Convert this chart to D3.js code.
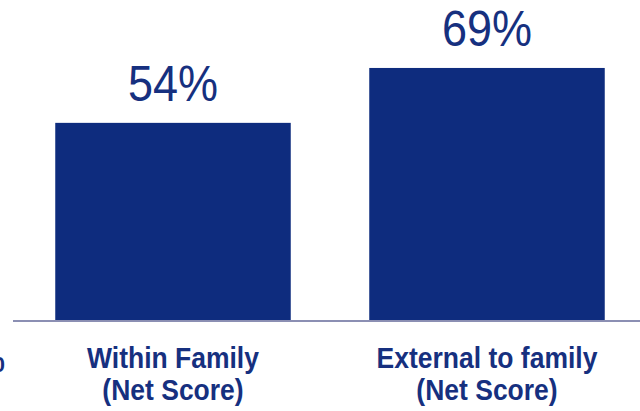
<!DOCTYPE html>
<html>
<head>
<meta charset="utf-8">
<script src="https://cdn.jsdelivr.net/npm/d3@7/dist/d3.min.js"></script>
<style>
  html, body { margin: 0; padding: 0; background: #ffffff; }
  svg { display: block; }
</style>
</head>
<body>
<div id="chart"></div>
<script>
// Net scores by relationship
const categories = ["Within Family", "External to family"];
const subLabels = ["(Net Score)", "(Net Score)"];
const values = [54, 69];
const valueLabels = ["54%", "69%"];

const width = 640, height = 411;
const barColor = "#0e2c7e";
const textColor = "#16307f";
const font = "Liberation Sans, Arial, sans-serif";

const svg = d3.select("#chart").append("svg")
  .attr("width", width)
  .attr("height", height);

const x = d3.scaleBand()
  .domain(categories)
  .range([16, 644])
  .paddingInner(0.25)
  .paddingOuter(0.125);

const y = d3.scaleLinear()
  .domain([0, 100])
  .range([320.5, -45.5]);

const cx = d => x(d) + x.bandwidth() / 2;

// bars
svg.selectAll("rect.bar")
  .data(categories)
  .join("rect")
  .attr("class", "bar")
  .attr("x", d => x(d))
  .attr("width", x.bandwidth())
  .attr("y", (d, i) => y(values[i]))
  .attr("height", (d, i) => y(0) - y(values[i]))
  .attr("fill", barColor);

// baseline
svg.append("line")
  .attr("x1", 13).attr("x2", width)
  .attr("y1", y(0) + 0.5).attr("y2", y(0) + 0.5)
  .attr("stroke", "#8b8fb3")
  .attr("stroke-width", 2);

// value labels, slightly tall glyphs
svg.selectAll("text.value")
  .data(categories)
  .join("text")
  .attr("class", "value")
  .attr("transform", (d, i) => `translate(${cx(d)},${y(values[i]) - 22}) scale(1,1.1)`)
  .attr("text-anchor", "middle")
  .attr("font-family", font)
  .attr("font-size", 45)
  .attr("fill", textColor)
  .text((d, i) => valueLabels[i]);

// category labels (two lines)
const cat = svg.selectAll("g.cat")
  .data(categories)
  .join("g")
  .attr("class", "cat")
  .attr("font-family", font)
  .attr("font-weight", "bold")
  .attr("font-size", 26.5)
  .attr("fill", textColor)
  .attr("text-anchor", "middle");

cat.append("text")
  .attr("transform", d => `translate(${cx(d)},368) scale(1,1.1)`)
  .text(d => d);

cat.append("text")
  .attr("transform", d => `translate(${cx(d)},400) scale(1,1.1)`)
  .text((d, i) => subLabels[i]);

// clipped axis label at the left edge
svg.append("text")
  .attr("x", 5)
  .attr("y", 372)
  .attr("text-anchor", "end")
  .attr("font-family", font)
  .attr("font-weight", "bold")
  .attr("font-size", 22)
  .attr("fill", textColor)
  .text("0");
</script>
</body>
</html>
